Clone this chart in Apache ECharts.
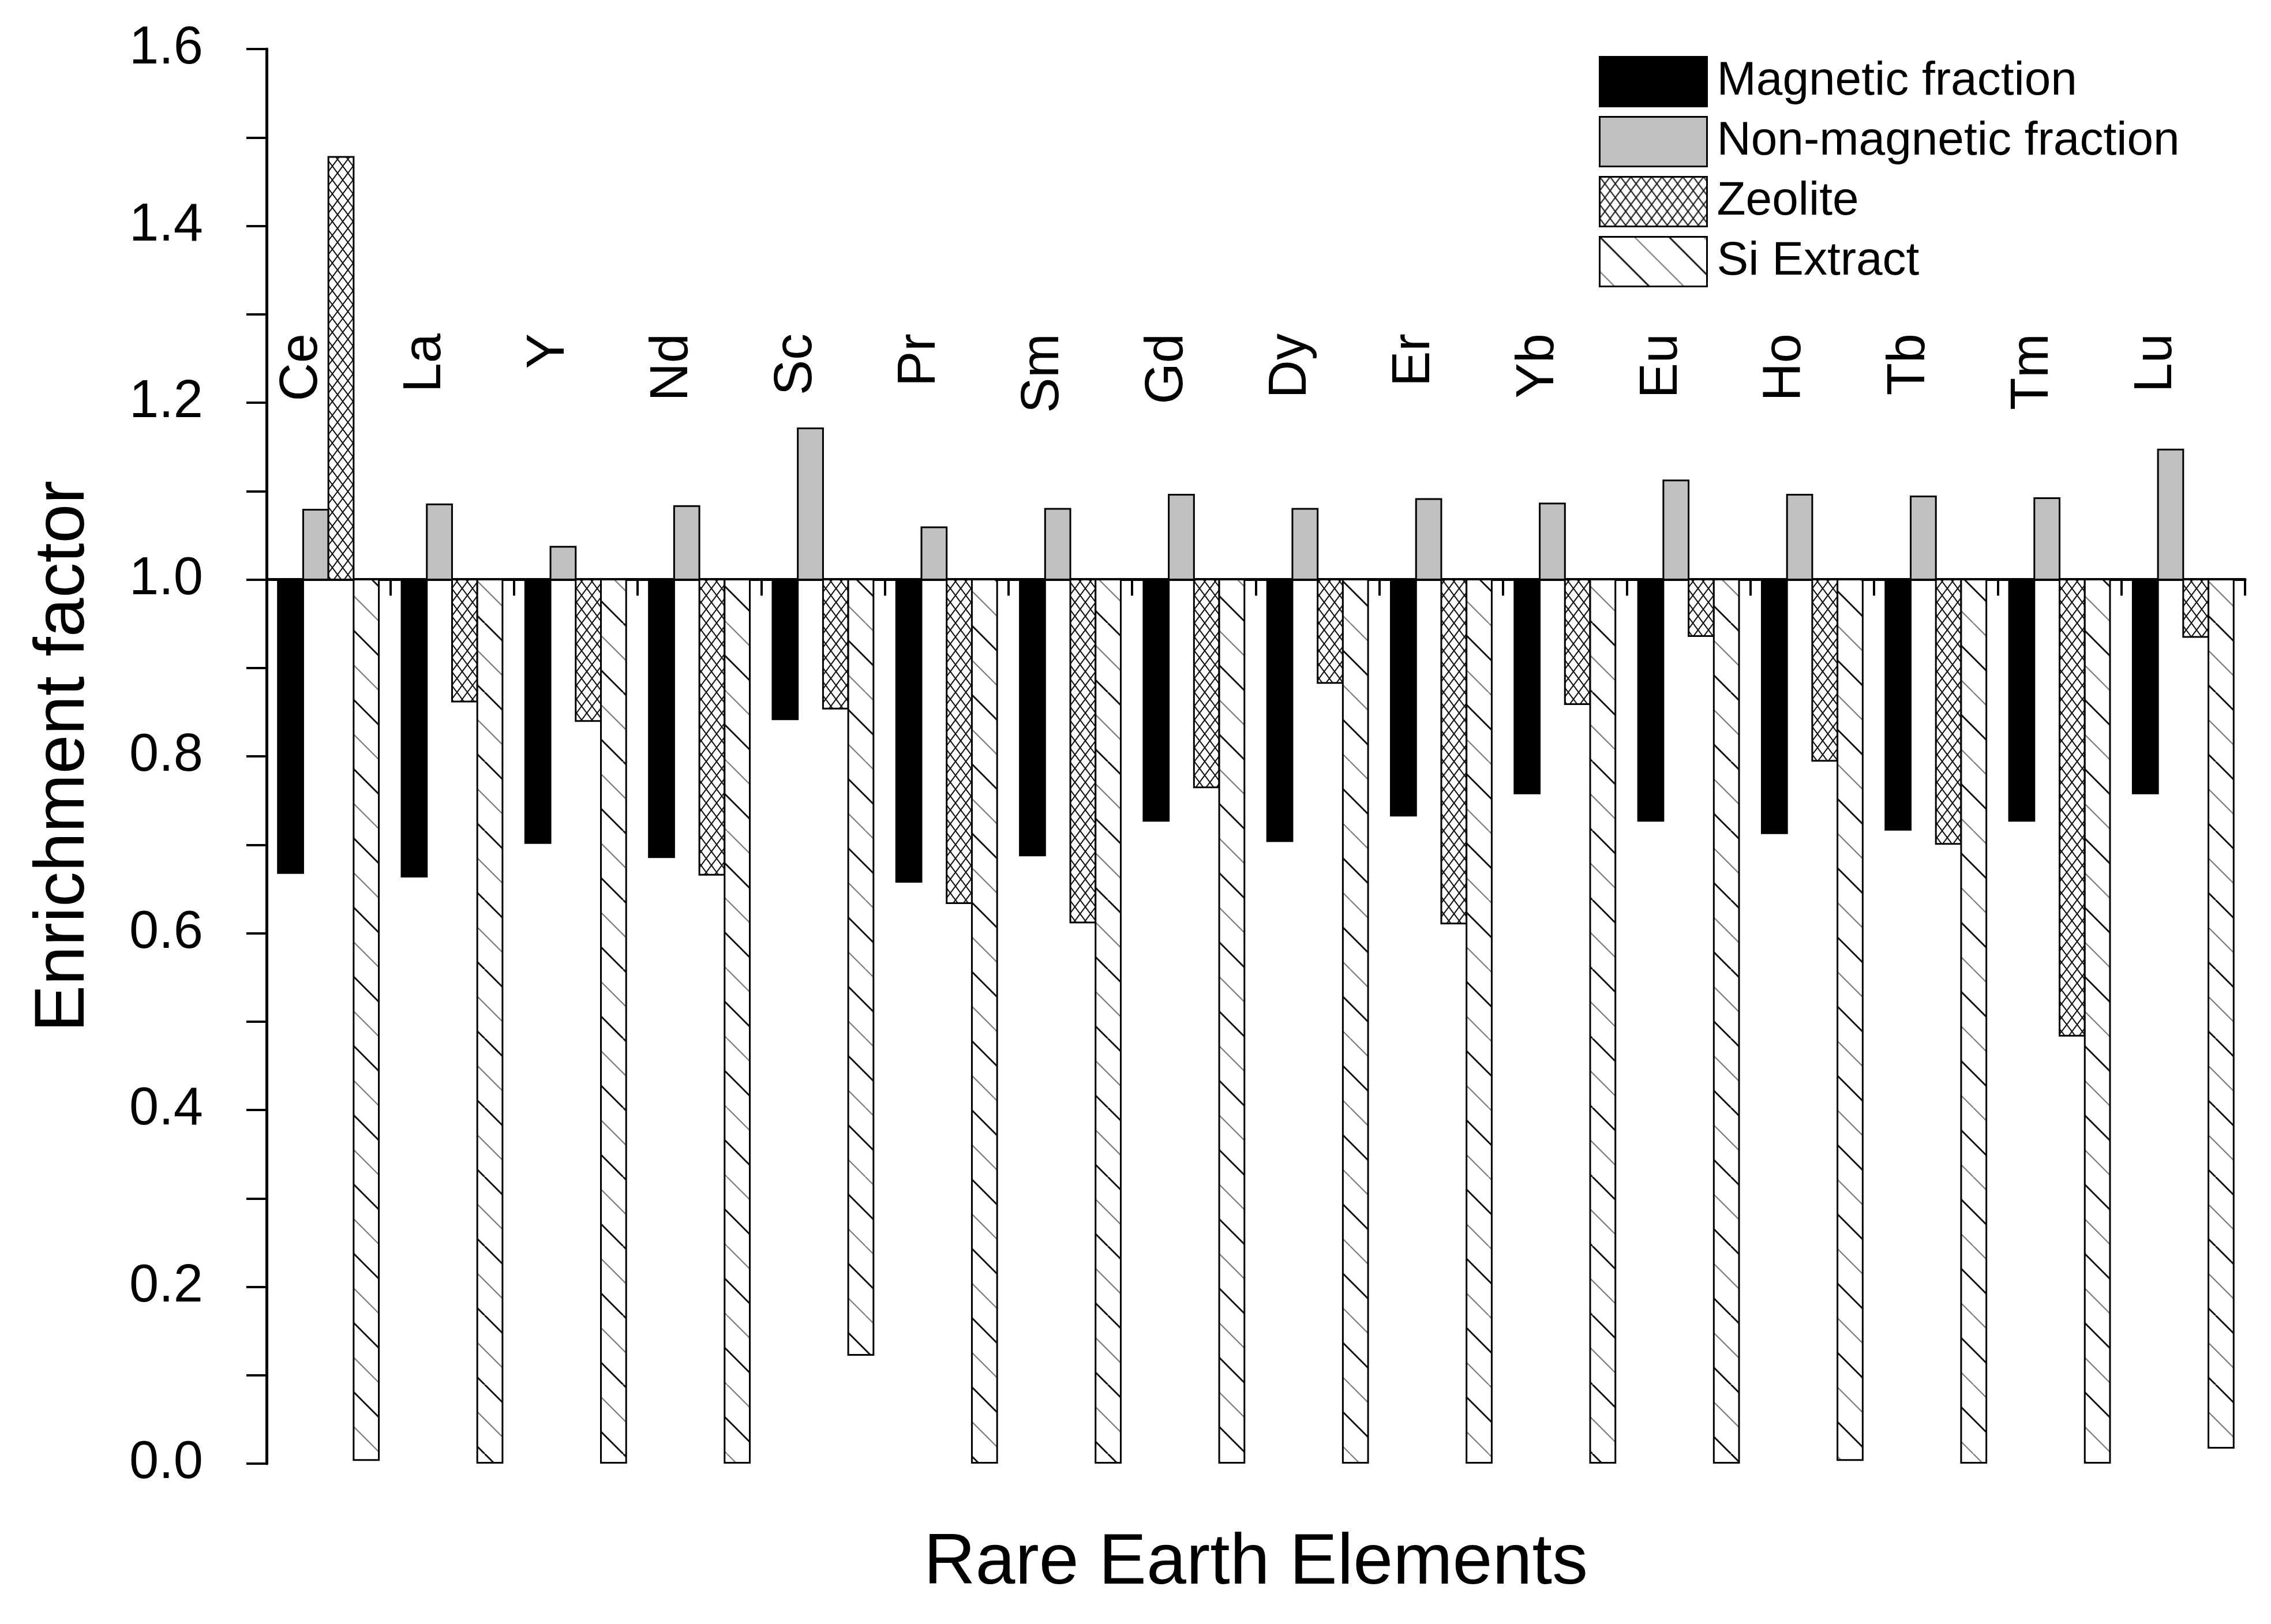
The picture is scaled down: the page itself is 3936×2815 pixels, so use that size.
<!DOCTYPE html>
<html>
<head>
<meta charset="utf-8">
<title>Enrichment factor</title>
<script src="https://cdn.jsdelivr.net/npm/echarts@6.0.0/dist/echarts.min.js"></script>
<style>
  html, body { margin: 0; padding: 0; background: #fff; }
  #chart { width: 3936px; height: 2815px; }
</style>
</head>
<body>
<div id="chart"></div>
<script>
  // data
  var categories = ['Ce', 'La', 'Y', 'Nd', 'Sc', 'Pr', 'Sm', 'Gd', 'Dy', 'Er', 'Yb', 'Eu', 'Ho', 'Tb', 'Tm', 'Lu'];
  var magnetic = [0.668, 0.664, 0.702, 0.686, 0.842, 0.658, 0.688, 0.727, 0.704, 0.733, 0.758, 0.727, 0.713, 0.717, 0.727, 0.758];
  var nonMagnetic = [1.079, 1.085, 1.037, 1.083, 1.171, 1.059, 1.080, 1.096, 1.080, 1.091, 1.086, 1.112, 1.096, 1.094, 1.092, 1.147];
  var zeolite = [1.478, 0.862, 0.840, 0.666, 0.854, 0.634, 0.612, 0.765, 0.883, 0.611, 0.859, 0.936, 0.795, 0.701, 0.484, 0.935];
  var siExtract = [0.004, 0.001, 0.001, 0.001, 0.123, 0.001, 0.001, 0.001, 0.001, 0.001, 0.001, 0.001, 0.004, 0.001, 0.001, 0.018];
  var seriesNames = ['Magnetic fraction', 'Non-magnetic fraction', 'Zeolite', 'Si Extract'];
  var baseline = 1.0; // bars start from here
  var yMin = 0, yMax = 1.6, yStep = 0.2;

  var FONT = '"Liberation Sans", Arial, sans-serif';

  // hatch fills
  function crossHatch() {
    var c = document.createElement('canvas');
    c.width = 18; c.height = 24;
    var g = c.getContext('2d');
    g.fillStyle = '#fff';
    g.fillRect(0, 0, 18, 24);
    g.strokeStyle = '#111';
    g.lineWidth = 2;
    g.beginPath();
    g.moveTo(0, 0); g.lineTo(18, 24);
    g.moveTo(18, 0); g.lineTo(0, 24);
    g.stroke();
    return { image: c, repeat: 'repeat' };
  }

  function diagHatch() {
    var s = 60, t = 120;
    var c = document.createElement('canvas');
    c.width = t; c.height = t;
    var g = c.getContext('2d');
    g.fillStyle = '#fff';
    g.fillRect(0, 0, t, t);
    for (var k = -2; k <= 2; k++) {
      g.beginPath();
      g.strokeStyle = (k % 2 === 0) ? '#111' : '#777';
      g.lineWidth = (k % 2 === 0) ? 3 : 2;
      g.moveTo(k * s, 0);
      g.lineTo(k * s + t, t);
      g.stroke();
    }
    return { image: c, repeat: 'repeat' };
  }

  var fills = ['#000', '#c0c0c0', crossHatch(), diagHatch()];
  var allValues = [magnetic, nonMagnetic, zeolite, siExtract];

  function barSeries(k) {
    return {
      type: 'custom',
      name: seriesNames[k],
      xAxisIndex: 0,
      yAxisIndex: 0,
      itemStyle: { color: fills[k], borderColor: '#000', borderWidth: 3 },
      encode: { x: 0, y: 1 },
      data: allValues[k].map(function (v, i) { return [i, v]; }),
      renderItem: function (params, api) {
        var i = api.value(0);
        var v = api.value(1);
        var base = api.coord([i, baseline]);
        var end = api.coord([i, v]);
        var band = api.size([1, 0])[0];
        var w = band * 0.204;
        var x = base[0] - 2 * w + k * w;
        return {
          type: 'rect',
          shape: { x: x, y: Math.min(base[1], end[1]), width: w, height: Math.abs(end[1] - base[1]) },
          style: { fill: fills[k], stroke: '#000', lineWidth: 3 }
        };
      }
    };
  }

  var gridTop = 85, gridBottom = 278, chartH = 2815;
  var plotH = chartH - gridTop - gridBottom;
  // pixel shift of the baseline axis up to value 1.0
  var baseOffset = -plotH * (baseline - yMin) / (yMax - yMin);

  var option = {
    animation: false,
    backgroundColor: '#fff',
    textStyle: { fontFamily: FONT, color: '#000' },
    grid: { left: 462, right: 45, top: gridTop, bottom: gridBottom, containLabel: false, outerBoundsMode: 'none' },
    legend: {
      data: seriesNames,
      orient: 'vertical',
      left: 2766,
      top: 92,
      icon: 'rect',
      itemWidth: 186,
      itemHeight: 86,
      itemGap: 15,
      itemStyle: { borderColor: '#000', borderWidth: 3 },
      textStyle: { fontFamily: FONT, fontSize: 82, color: '#000', padding: [0, 0, 0, 12] }
    },
    xAxis: [
      {
        // baseline at 1.0
        type: 'category',
        data: categories,
        position: 'bottom',
        offset: baseOffset,
        axisLine: { onZero: false, lineStyle: { color: '#000', width: 5 } },
        axisTick: { show: true, length: 28, lineStyle: { color: '#000', width: 4 } },
        axisLabel: { show: false },
        splitLine: { show: false }
      },
      {
        // element names
        type: 'category',
        data: categories,
        position: 'bottom',
        offset: -(chartH - gridBottom - 578),
        axisLine: { show: false, onZero: false },
        axisTick: { show: false },
        axisLabel: {
          show: true, interval: 0, rotate: 90, margin: 0,
          verticalAlign: 'bottom',
          fontFamily: FONT, fontSize: 92, color: '#000'
        },
        splitLine: { show: false }
      },
      {
        // axis title
        type: 'category',
        data: categories,
        position: 'bottom',
        axisLine: { show: false, onZero: false },
        axisTick: { show: false },
        axisLabel: { show: false },
        splitLine: { show: false },
        name: 'Rare Earth Elements',
        nameLocation: 'middle',
        nameGap: 112,
        nameTextStyle: { fontFamily: FONT, fontSize: 124, color: '#000' }
      }
    ],
    yAxis: {
      type: 'value',
      min: yMin,
      max: yMax,
      interval: yStep,
      name: 'Enrichment factor',
      nameLocation: 'middle',
      nameGap: 290,
      nameTextStyle: { fontFamily: FONT, fontSize: 122, color: '#000' },
      axisLine: { show: true, lineStyle: { color: '#000', width: 5 } },
      axisTick: { show: true, length: 35, lineStyle: { color: '#000', width: 4 } },
      minorTick: { show: true, splitNumber: 2, length: 35, lineStyle: { color: '#000', width: 4 } },
      axisLabel: {
        margin: 110, fontFamily: FONT, fontSize: 92, color: '#000',
        formatter: function (v) { return v.toFixed(1); }
      },
      splitLine: { show: false }
    },
    series: [barSeries(0), barSeries(1), barSeries(2), barSeries(3)]
  };

  var chart = echarts.init(document.getElementById('chart'));
  chart.setOption(option);
</script>
</body>
</html>
